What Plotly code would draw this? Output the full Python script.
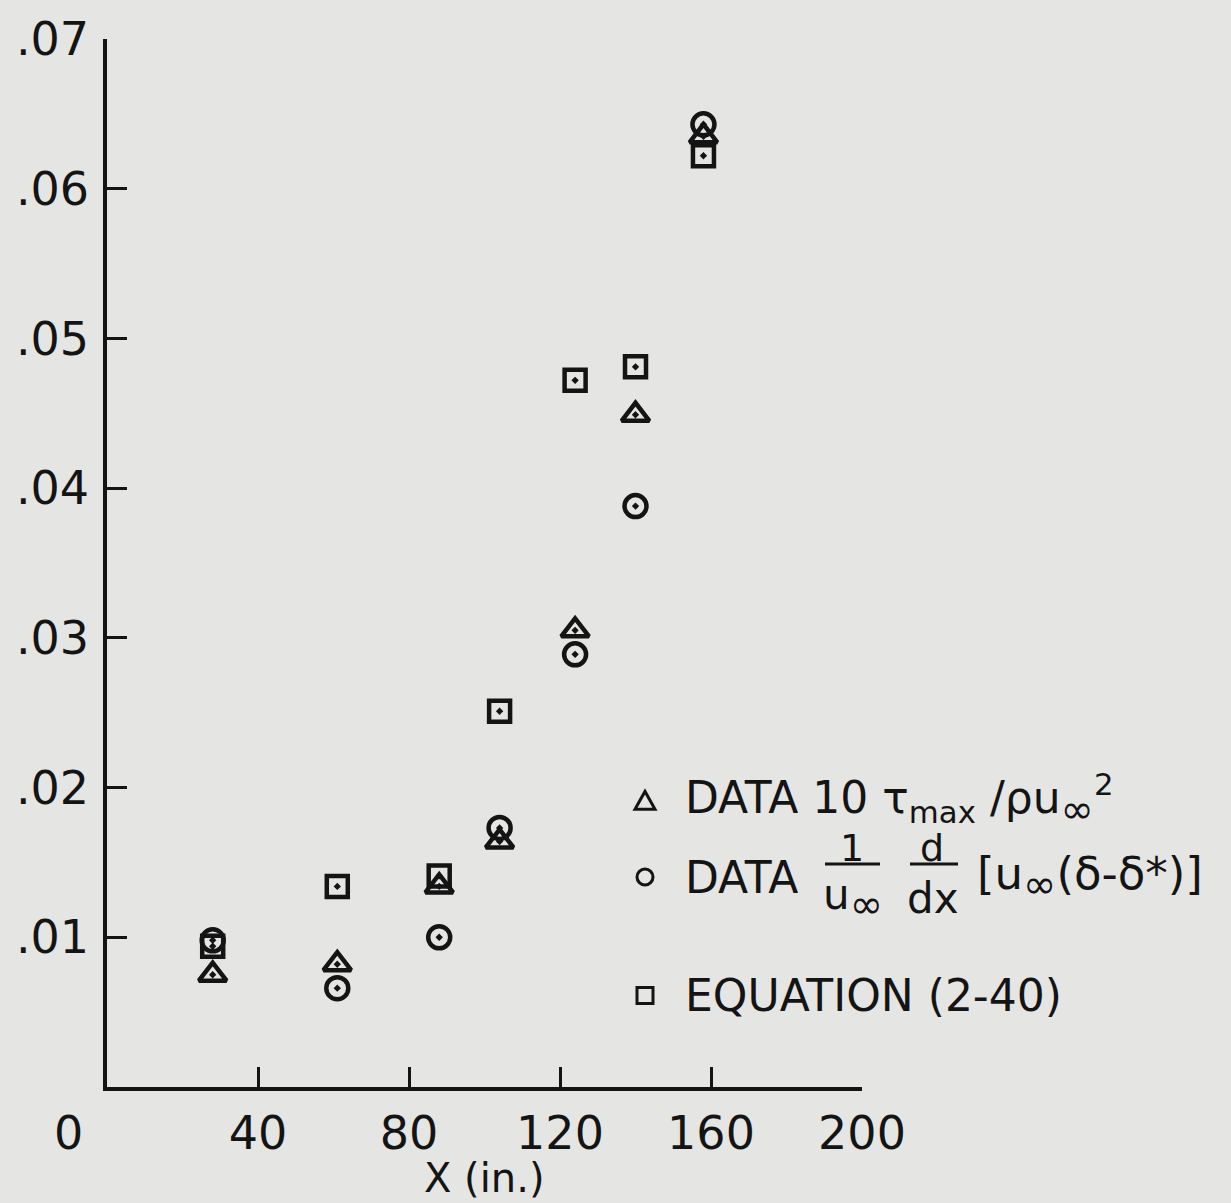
import plotly.graph_objects as go

# ---- data ----
x_pos = [28, 61, 88, 104, 124, 140, 158]
tri_vals = [0.0075, 0.0082, 0.0134, 0.0164, 0.0305, 0.0449, 0.0635]      # DATA 10 tau_max / rho u^2
circ_vals = [0.0098, 0.0066, 0.0100, 0.0173, 0.0289, 0.0388, 0.0643]     # DATA (1/u) d/dx [u(delta-delta*)]
sq_vals = [0.0094, 0.0134, 0.0141, 0.0251, 0.0472, 0.0481, 0.0622]       # EQUATION (2-40)

x_ticks = [40, 80, 120, 160, 200]
x_ticktext = ["40", "80", "120", "160", "200"]
y_ticks = [0.01, 0.02, 0.03, 0.04, 0.05, 0.06, 0.07]
y_ticktext = [".01", ".02", ".03", ".04", ".05", ".06", ".07"]

BG = "#e5e5e3"
INK = "#141414"
FONT = "DejaVu Sans"

W, H = 1231, 1203
L, R, T, B = 107, 862, 34, 1087  # plot area in pixels


def px(x):
    return (x - L) / (R - L)


def py(y):
    return (B - y) / (B - T)


fig = go.Figure()
mk = dict(color=INK, line=dict(color=INK, width=4.5))
fig.add_trace(go.Scatter(x=x_pos, y=sq_vals, mode="markers",
                         marker=dict(symbol="square-open-dot", size=21, **mk)))
fig.add_trace(go.Scatter(x=x_pos, y=circ_vals, mode="markers",
                         marker=dict(symbol="circle-open-dot", size=22, **mk)))
fig.add_trace(go.Scatter(x=x_pos, y=tri_vals, mode="markers",
                         marker=dict(symbol="triangle-up-open-dot", size=24, **mk)))

ann = []


def text(x, y, s, size=44, xanchor="left"):
    ann.append(dict(x=px(x), y=py(y), xref="paper", yref="paper", text=s,
                    showarrow=False, xanchor=xanchor, yanchor="middle",
                    font=dict(family=FONT, size=size, color=INK)))


INF = "<sub><span style='font-size:40px'>∞</span></sub>"

# origin label and axis title
text(68, 1133, "0", 46, "center")
text(484, 1178, "X (in.)", 40, "center")

# legend line 1
text(683, 798, "DATA 10 τ<sub>max</sub> /ρu" + INF + "<sup>2</sup>", 44)
# legend line 2
text(683, 876, "DATA", 44)
text(852, 847, "1", 38, "center")
text(853, 898, "u" + INF, 42, "center")
text(932, 847, "d", 38, "center")
text(933, 898, "dx", 42, "center")
text(975, 876, "[u" + INF + "(δ-δ*)]", 45)
# legend line 3
text(683, 995, "EQUATION (2-40)", 44)

shapes = []
lw = dict(color=INK, width=3)
for x0, x1 in [(825, 880), (910, 958)]:
    shapes.append(dict(type="line", xref="paper", yref="paper",
                       x0=px(x0), x1=px(x1), y0=py(863), y1=py(863), line=lw))
# legend keys
shapes.append(dict(type="path", xref="paper", yref="paper",
                   path="M {a},{b} L {c},{d} L {e},{b} Z".format(
                       a=px(635), b=py(808), c=px(645), d=py(790), e=px(655)),
                   line=lw))
shapes.append(dict(type="circle", xref="paper", yref="paper",
                   x0=px(637), x1=px(653), y0=py(884), y1=py(868), line=lw))
shapes.append(dict(type="rect", xref="paper", yref="paper",
                   x0=px(637), x1=px(653), y0=py(1003), y1=py(987), line=lw))

axis_common = dict(showgrid=False, zeroline=False, showline=True, linecolor=INK,
                   linewidth=3.5, ticks="inside", ticklen=20, tickwidth=3,
                   tickcolor=INK, tickfont=dict(family=FONT, size=46, color=INK))

fig.update_layout(
    width=W, height=H,
    margin=dict(l=L, r=W - R, t=T, b=H - B, pad=0),
    paper_bgcolor=BG, plot_bgcolor=BG,
    showlegend=False,
    xaxis=dict(range=[0, 200], tickvals=x_ticks, ticktext=x_ticktext,
               ticklabelstandoff=3, **axis_common),
    yaxis=dict(range=[0, 0.07], tickvals=y_ticks, ticktext=y_ticktext,
               ticklabelstandoff=5, **axis_common),
    annotations=ann, shapes=shapes,
)

fig.write_html("out.html", config={"displayModeBar": False},
               post_script="document.body.style.margin='0';document.body.style.background='%s';" % BG)
